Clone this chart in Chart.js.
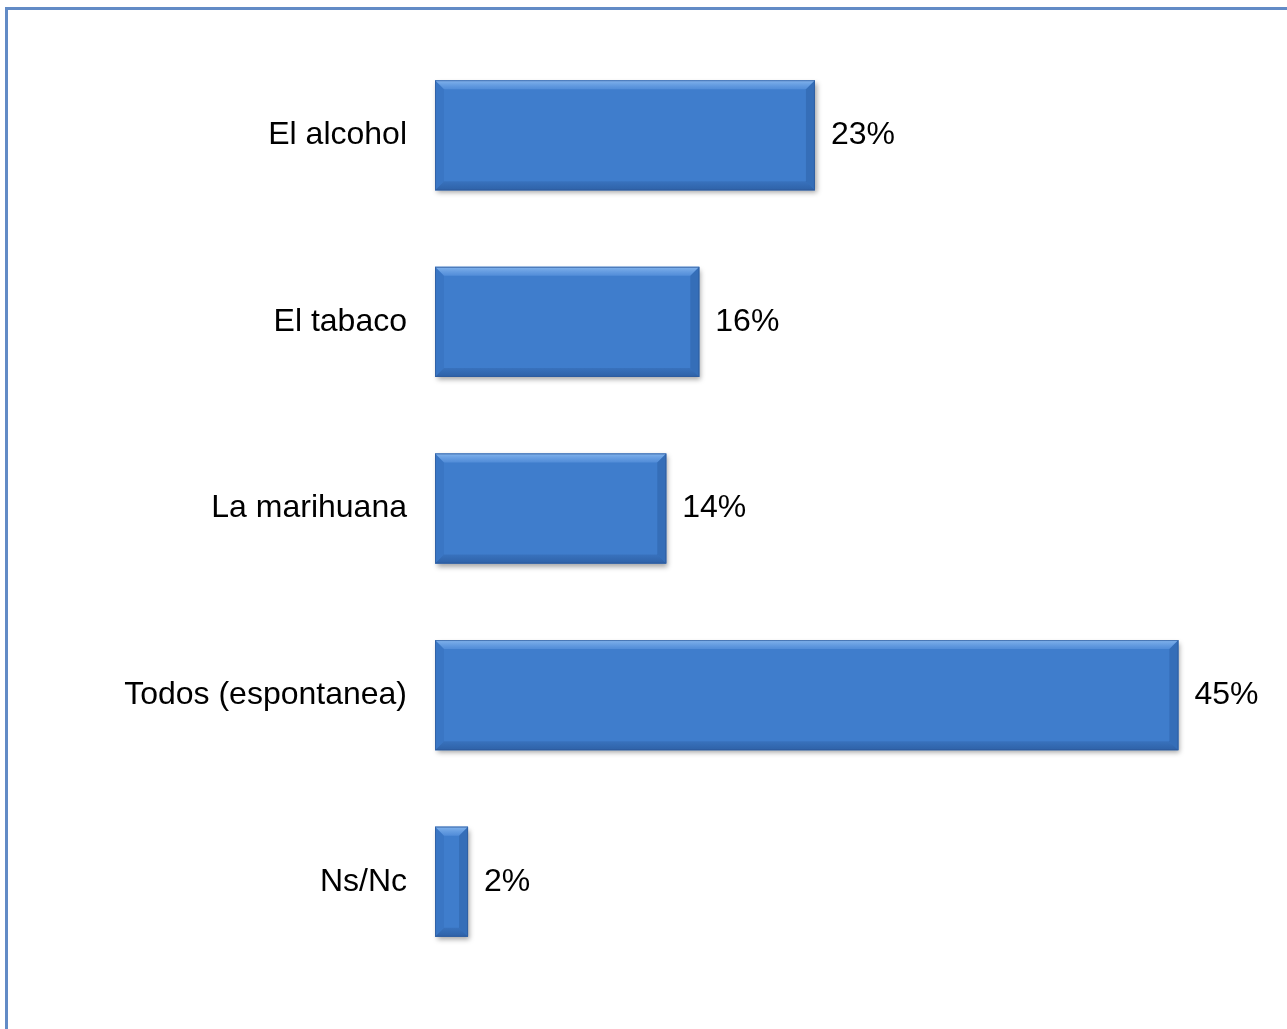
<!DOCTYPE html>
<html lang="es">
<head>
    <meta charset="UTF-8">
    <title>Sustancias</title>
    <script src="https://cdn.jsdelivr.net/npm/chart.js"></script>
    <style>
        html, body { margin: 0; padding: 0; background: #fff; }
        .frame {
            position: absolute; left: 5px; top: 7px; right: -10px; bottom: -10px;
            border-left: 3px solid #628bc6; border-top: 3px solid #628bc6;
        }
        .chart-container { position: absolute; left: 0; top: 0; width: 1287px; height: 1029px; }
    </style>
</head>
<body>
    <div class="frame"></div>
    <div class="chart-container">
        <canvas id="drugChart"></canvas>
    </div>

    <script>
        const categories = ["El alcohol", "El tabaco", "La marihuana", "Todos (espontanea)", "Ns/Nc"];
        const percentages = [23, 16, 14, 45, 2];

        const labelFont = { family: "'Liberation Sans', Arial, sans-serif", size: 32 };

        // bevel / shading on top of each bar, like the office 3D bars
        const bevelPlugin = {
            id: "bevel",
            beforeDatasetsDraw(chart) {
                // soft shadow under bars
                const ctx = chart.ctx;
                chart.getDatasetMeta(0).data.forEach(bar => {
                    const p = bar.getProps(["x", "y", "base", "height"], true);
                    ctx.save();
                    ctx.shadowColor = "rgba(0,0,0,0.35)";
                    ctx.shadowBlur = 5;
                    ctx.shadowOffsetX = 2;
                    ctx.shadowOffsetY = 3;
                    ctx.fillStyle = "#3a70b8";
                    ctx.fillRect(p.base, p.y - p.height / 2, p.x - p.base, p.height);
                    ctx.restore();
                });
            },
            afterDatasetsDraw(chart) {
                const ctx = chart.ctx;
                chart.getDatasetMeta(0).data.forEach(bar => {
                    const p = bar.getProps(["x", "y", "base", "height"], true);
                    const l = p.base, r = p.x, t = p.y - p.height / 2, b = p.y + p.height / 2;
                    const bv = Math.min(9, (r - l) / 2 - 1);
                    ctx.save();
                    // top light band
                    const gt = ctx.createLinearGradient(0, t, 0, t + bv);
                    gt.addColorStop(0, "rgba(150,195,245,0.8)");
                    gt.addColorStop(1, "rgba(110,165,235,0.4)");
                    ctx.fillStyle = gt;
                    ctx.beginPath();
                    ctx.moveTo(l, t); ctx.lineTo(r, t); ctx.lineTo(r - bv, t + bv); ctx.lineTo(l + bv, t + bv);
                    ctx.closePath(); ctx.fill();
                    // bottom dark band
                    const gb = ctx.createLinearGradient(0, b - bv, 0, b);
                    gb.addColorStop(0, "rgba(30,70,130,0.2)");
                    gb.addColorStop(1, "rgba(30,70,130,0.5)");
                    ctx.fillStyle = gb;
                    ctx.beginPath();
                    ctx.moveTo(l, b); ctx.lineTo(r, b); ctx.lineTo(r - bv, b - bv); ctx.lineTo(l + bv, b - bv);
                    ctx.closePath(); ctx.fill();
                    // sides
                    ctx.fillStyle = "rgba(40,90,160,0.18)";
                    ctx.beginPath();
                    ctx.moveTo(l, t); ctx.lineTo(l + bv, t + bv); ctx.lineTo(l + bv, b - bv); ctx.lineTo(l, b);
                    ctx.closePath(); ctx.fill();
                    ctx.fillStyle = "rgba(30,75,140,0.3)";
                    ctx.beginPath();
                    ctx.moveTo(r, t); ctx.lineTo(r - bv, t + bv); ctx.lineTo(r - bv, b - bv); ctx.lineTo(r, b);
                    ctx.closePath(); ctx.fill();
                    ctx.strokeStyle = "rgba(45,90,155,0.7)";
                    ctx.lineWidth = 1;
                    ctx.strokeRect(l + 0.5, t + 0.5, r - l - 1, b - t - 1);
                    ctx.restore();
                });
            }
        };

        const valueLabels = {
            id: "valueLabels",
            afterDatasetsDraw(chart) {
                const ctx = chart.ctx;
                ctx.save();
                ctx.font = labelFont.size + "px " + labelFont.family;
                ctx.fillStyle = "#000";
                ctx.textAlign = "left";
                ctx.textBaseline = "middle";
                chart.getDatasetMeta(0).data.forEach((bar, i) => {
                    ctx.fillText(percentages[i] + "%", bar.x + 16, bar.y);
                });
                ctx.restore();
            }
        };

        new Chart(document.getElementById("drugChart"), {
            type: "bar",
            data: {
                labels: categories,
                datasets: [{
                    data: percentages,
                    backgroundColor: function (context) {
                        const chart = context.chart;
                        const el = context.element;
                        if (!chart.chartArea || !el || el.y === undefined) return "#3f7dcc";
                        const t = el.y - el.height / 2, b = el.y + el.height / 2;
                        if (!isFinite(t) || !isFinite(b) || b <= t) return "#3f7dcc";
                        const g = chart.ctx.createLinearGradient(0, t, 0, b);
                        g.addColorStop(0, "#4788dc");
                        g.addColorStop(0.5, "#3f7fd0");
                        g.addColorStop(1, "#376eb6");
                        return g;
                    },
                    borderWidth: 0,
                    barPercentage: 0.59,
                    categoryPercentage: 1
                }]
            },
            options: {
                indexAxis: "y",
                responsive: true,
                maintainAspectRatio: false,
                animation: false,
                layout: { padding: { left: 0, right: 26, top: 42, bottom: 54 } },
                plugins: {
                    legend: { display: false },
                    tooltip: { enabled: false }
                },
                scales: {
                    x: {
                        min: 0,
                        max: 50,
                        display: false
                    },
                    y: {
                        grid: { display: false, drawTicks: false },
                        border: { display: false },
                        ticks: {
                            color: "#000",
                            font: labelFont,
                            padding: 28
                        },
                        afterFit(scale) {
                            scale.width = 435;
                            scale.paddingTop = 0;
                            scale.paddingBottom = 0;
                        }
                    }
                }
            },
            plugins: [bevelPlugin, valueLabels]
        });
    </script>
</body>
</html>
